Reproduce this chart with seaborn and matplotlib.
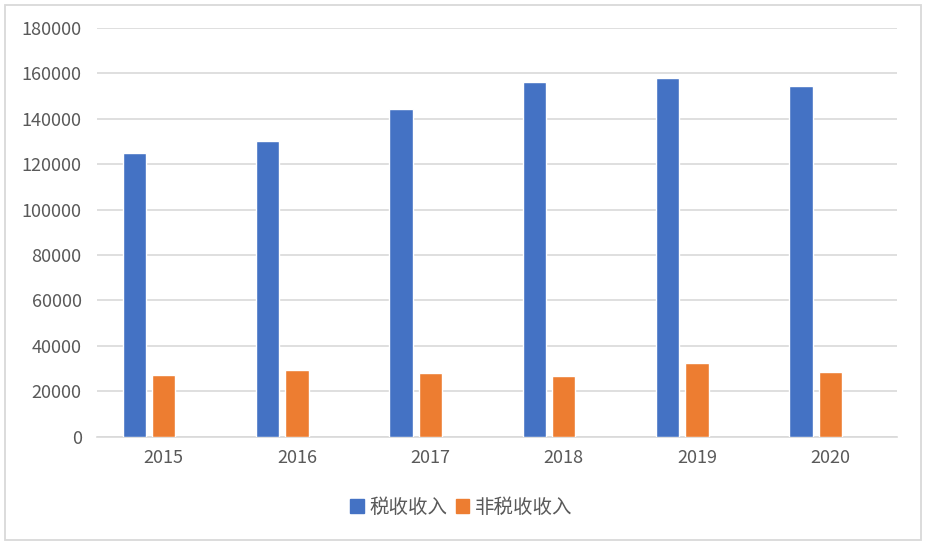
import pandas as pd
import matplotlib
matplotlib.use('Agg')
import matplotlib.pyplot as plt
import matplotlib.patches as mpatches
import seaborn as sns

# ── data ────────────────────────────────────────────────────
years = ['2015', '2016', '2017', '2018', '2019', '2020']
tax_rev = [124922, 130361, 144370, 156403, 157992, 154312]
nontax_rev = [27347, 29198, 28222, 26949, 32390, 28584]
series = ['税收收入', '非税收收入']
y_ticks = [0, 20000, 40000, 60000, 80000, 100000, 120000, 140000, 160000, 180000]

BLUE = '#4472C4'
ORANGE = '#ED7D31'
GRID = '#D9D9D9'
TEXT = '#595959'

df = pd.DataFrame({
    'year': years * 2,
    'value': tax_rev + nontax_rev,
    'kind': [series[0]] * len(years) + [series[1]] * len(years),
})

sns.set_theme(style='white')
plt.rcParams['font.family'] = ['Noto Sans CJK SC', 'DejaVu Sans']

fig = plt.figure(figsize=(9.33, 5.5), dpi=100, facecolor='white')
ax = fig.add_axes([97 / 933, 1 - 436.7 / 550, 800 / 933, (436.7 - 28) / 550])

# third (empty) slot mimics the spreadsheet layout with a blank series
hue_order = series + ['_blank']
palette = {series[0]: BLUE, series[1]: ORANGE, '_blank': 'white'}
sns.barplot(data=df, x='year', y='value', hue='kind', hue_order=hue_order,
            palette=palette, order=years, width=0.66, gap=0.2,
            saturation=1, legend=False, ax=ax, zorder=3)

ax.set_ylim(0, 180000)
ax.set_xlim(-0.5, len(years) - 0.5)
ax.set_yticks(y_ticks)
ax.set_yticklabels([str(v) for v in y_ticks])
ax.yaxis.grid(True, color=GRID, linewidth=1.2, zorder=0)
ax.set_axisbelow(True)
ax.tick_params(axis='both', length=0, labelsize=13, colors=TEXT)
ax.tick_params(axis='y', pad=11)
ax.tick_params(axis='x', pad=9)
ax.set_xlabel('')
ax.set_ylabel('')
for s in ['top', 'right', 'left']:
    ax.spines[s].set_visible(False)
ax.spines['bottom'].set_color(GRID)
ax.spines['bottom'].set_linewidth(1.2)

handles = [mpatches.Patch(color=BLUE, label=series[0]),
           mpatches.Patch(color=ORANGE, label=series[1])]
leg = fig.legend(handles=handles, loc='center', bbox_to_anchor=(0.4946, 1 - 507 / 550),
                 ncol=2, frameon=False, fontsize=14, handlelength=0.7, handleheight=0.7,
                 handletextpad=0.3, columnspacing=0.4)
for t in leg.get_texts():
    t.set_color(TEXT)

# chart-area border
fig.patches.append(mpatches.Rectangle((4.5 / 933, 1 - 539.5 / 550), 916.5 / 933, 535 / 550,
                                      transform=fig.transFigure, fill=False,
                                      edgecolor=GRID, linewidth=1.3))

fig.savefig('out.png', dpi=100, facecolor='white')
